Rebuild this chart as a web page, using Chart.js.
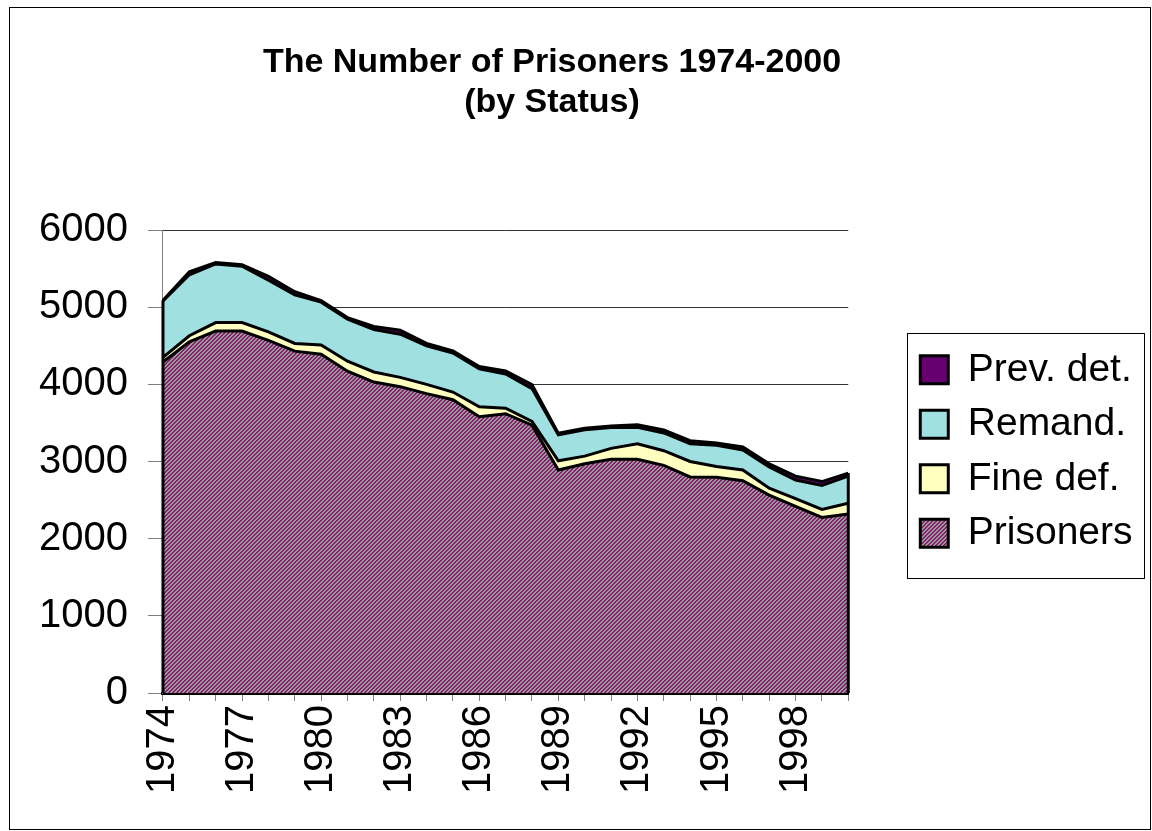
<!DOCTYPE html>
<html>
<head>
<meta charset="utf-8">
<title>The Number of Prisoners 1974-2000</title>
<script src="https://cdn.jsdelivr.net/npm/chart.js@4.4.1/dist/chart.umd.min.js"></script>
<style>
  html, body { margin: 0; padding: 0; background: #fff; }
  #frame { position: absolute; left: 9px; top: 7px; width: 1140px; height: 821px; border: 1px solid #000; }
  #chart { position: absolute; left: 0; top: 0; }
</style>
</head>
<body>
<div id="frame"></div>
<canvas id="chart" width="1152" height="831"></canvas>
<script>
// ================== Data ==================
const years = ['1974', '1975', '1976', '1977', '1978', '1979', '1980', '1981', '1982',
  '1983', '1984', '1985', '1986', '1987', '1988', '1989', '1990', '1991', '1992',
  '1993', '1994', '1995', '1996', '1997', '1998', '1999', '2000'];

const prisoners = [4290, 4550, 4690, 4690, 4570, 4430, 4390, 4170, 4030, 3970, 3880, 3800, 3580,
  3620, 3470, 2890, 2970, 3030, 3030, 2950, 2800, 2795, 2750, 2565, 2420, 2275, 2320];
const fineDef = [60, 80, 110, 110, 110, 100, 120, 130, 130, 120, 120, 100, 130,
  70, 50, 120, 100, 140, 200, 190, 200, 140, 140, 90, 100, 105, 140];
const remand = [730, 790, 760, 730, 670, 630, 555, 545, 550, 560, 500, 505, 490,
  445, 425, 335, 340, 270, 215, 230, 230, 275, 260, 275, 240, 310, 350];
const prevDet = [10, 40, 20, 20, 50, 40, 20, 20, 40, 50, 30, 30, 30,
  40, 50, 20, 20, 20, 30, 40, 40, 30, 40, 40, 50, 50, 40];

const yTicks = [0, 1000, 2000, 3000, 4000, 5000, 6000];
const titleLines = ['The Number of Prisoners 1974-2000', '(by Status)'];

const FONT = '"Liberation Sans", Arial, sans-serif';

// ================== Helpers ==================
// purple / grey upward diagonal hatch, like the Excel fill
function makeHatch(ctx) {
  const c = document.createElement('canvas');
  c.width = 4; c.height = 4;
  const g = c.getContext('2d');
  g.fillStyle = '#9c9a9c';
  g.fillRect(0, 0, 4, 4);
  g.fillStyle = '#84206c';
  for (let y = 0; y < 4; y++) {
    for (let x = 0; x < 4; x++) {
      if ((x + y) % 4 < 2) g.fillRect(x, y, 1, 1);
    }
  }
  return ctx.createPattern(c, 'repeat');
}

// Plugin: two line title drawn at a fixed centre
const TitlePlugin = {
  id: 'twoLineTitle',
  afterDraw(chart, args, o) {
    const { ctx } = chart;
    ctx.save();
    ctx.font = `bold ${o.size}px ${FONT}`;
    ctx.fillStyle = '#000';
    ctx.textAlign = 'center';
    ctx.textBaseline = 'middle';
    o.lines.forEach((t, i) => ctx.fillText(t, o.x, o.y + i * o.lineHeight));
    ctx.restore();
  }
};

// Plugin: close the stacked areas at the first and last category (Excel outlines)
const EdgeOutlinePlugin = {
  id: 'edgeOutline',
  afterDatasetsDraw(chart, args, o) {
    const { ctx, scales: { x, y } } = chart;
    const sets = chart.data.datasets;
    const last = chart.data.labels.length - 1;
    ctx.save();
    ctx.strokeStyle = '#000';
    ctx.lineWidth = o.width;
    [0, last].forEach(i => {
      const total = sets.reduce((s, d) => s + d.data[i], 0);
      const xp = x.getPixelForValue(i);
      ctx.beginPath();
      ctx.moveTo(xp, y.getPixelForValue(0));
      ctx.lineTo(xp, y.getPixelForValue(total));
      ctx.stroke();
    });
    ctx.restore();
  }
};

// Plugin: move legend away from the plot and draw a frame round it
const LegendFramePlugin = {
  id: 'legendFrame',
  afterLayout(chart, args, o) {
    const lg = chart.legend;
    lg.left += o.shiftX;
    lg.right += o.shiftX;
    lg.top += o.shiftY;
    lg.bottom += o.shiftY;
  },
  afterDraw(chart, args, o) {
    const boxes = chart.legend.legendHitBoxes;
    if (!boxes || !boxes.length) return;
    const left = Math.min(...boxes.map(b => b.left)) - o.padLeft;
    const top = Math.min(...boxes.map(b => b.top)) - o.padTop;
    const right = Math.max(...boxes.map(b => b.left + b.width)) + o.padRight;
    const bottom = Math.max(...boxes.map(b => b.top + b.height)) + o.padBottom;
    const { ctx } = chart;
    ctx.save();
    ctx.strokeStyle = '#000';
    ctx.lineWidth = 1;
    ctx.strokeRect(Math.round(left) + 0.5, Math.round(top) + 0.5, Math.round(right - left), Math.round(bottom - top));
    ctx.restore();
  }
};

// ================== Chart ==================
(function initChart() {
  const canvas = document.getElementById('chart');
  const ctx = canvas.getContext('2d');
  const hatch = makeHatch(ctx);

  const area = (label, data, bg, fill) => ({
    label, data, fill,
    backgroundColor: bg,
    borderColor: '#000',
    borderWidth: 3,
    pointRadius: 0,
    tension: 0
  });

  new Chart(canvas, {
    type: 'line',
    plugins: [TitlePlugin, EdgeOutlinePlugin, LegendFramePlugin],
    data: {
      labels: years,
      datasets: [
        area('Prisoners', prisoners, hatch, 'origin'),
        area('Fine def.', fineDef, '#ffffc0', '-1'),
        area('Remand.', remand, '#a0e0e0', '-1'),
        area('Prev. det.', prevDet, '#660070', '-1')
      ]
    },
    options: {
      responsive: false,
      animation: false,
      layout: { padding: { top: 230, left: 19, right: 66, bottom: 33 } },
      plugins: {
        title: { display: false },
        tooltip: { enabled: false },
        twoLineTitle: { lines: titleLines, x: 552, y: 63, lineHeight: 40, size: 34 },
        edgeOutline: { width: 3 },
        legendFrame: { shiftX: 56.5, shiftY: -10, padLeft: 13, padTop: 17, padRight: 12, padBottom: 25 },
        legend: {
          position: 'right',
          fullSize: false,
          reverse: true,
          labels: {
            color: '#000',
            font: { family: FONT, size: 39 },
            boxWidth: 28,
            boxHeight: 28,
            padding: 15.5
          }
        }
      },
      scales: {
        x: {
          ticks: {
            autoSkip: false,
            minRotation: 90,
            maxRotation: 90,
            padding: 4,
            color: '#000',
            font: { family: FONT, size: 40 },
            callback(v, i) { return i % 3 === 0 ? this.getLabelForValue(v) : ''; }
          },
          grid: { drawOnChartArea: false, tickColor: '#808080', tickLength: 8 },
          border: { color: '#000', width: 3 }
        },
        y: {
          stacked: true,
          min: yTicks[0],
          max: yTicks[yTicks.length - 1],
          afterBuildTicks(s) { s.ticks = yTicks.map(v => ({ value: v })); },
          ticks: {
            color: '#000',
            padding: 20,
            font: { family: FONT, size: 40 },
            callback: v => String(v)
          },
          grid: { color: '#333', lineWidth: 1, tickColor: '#808080', tickLength: 15 },
          border: { color: '#808080' }
        }
      }
    }
  });
})();
</script>
</body>
</html>
